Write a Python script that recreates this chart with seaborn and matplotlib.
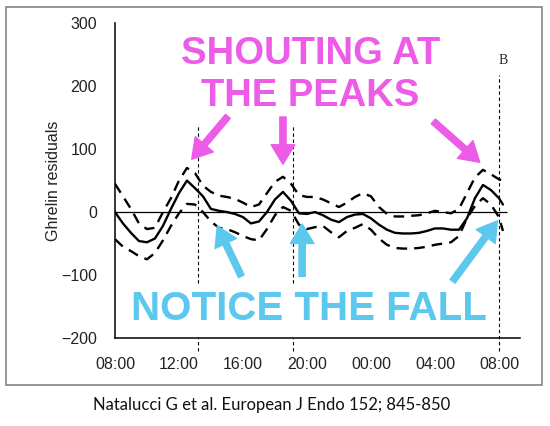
import matplotlib
matplotlib.use('Agg')
import matplotlib.pyplot as plt
import matplotlib.patches as mpatches
import numpy as np
import pandas as pd
import seaborn as sns

# data (hours since 00:00 of day 1, 32 = 08:00 next day)
hours = [8.0, 8.5, 9.0, 9.5, 10.0, 10.5, 11.0, 11.5, 12.0, 12.5,
         13.0, 13.5, 14.0, 14.5, 15.0, 15.5, 16.0, 16.5, 17.0, 17.5,
         18.0, 18.5, 19.0, 19.5, 20.0, 20.5, 21.0, 21.5, 22.0, 22.5,
         23.0, 23.5, 24.0, 24.5, 25.0, 25.5, 26.0, 26.5, 27.0, 27.5,
         28.0, 28.5, 29.0, 29.5, 30.0, 30.5, 31.0, 31.5, 32.0, 32.25]
mean = [0, -18, -33, -46, -48, -42, -22, 5, 30, 50,
        38, 25, 5, 2, 0, -3, -8, -18, -15, 0,
        20, 32, 18, -2, -3, 0, -5, -12, -16, -8,
        -4, -3, -10, -20, -28, -33, -34, -34, -33, -30,
        -26, -26, -28, -28, -10, 22, 43, 35, 22, 12]
upper = [45, 25, 5, -18, -27, -25, 0, 22, 50, 70,
         62, 42, 32, 26, 24, 21, 15, 8, 12, 30,
         48, 56, 45, 27, 24, 24, 20, 14, 8, 15,
         24, 30, 25, 8, -3, -7, -7, -6, -5, -2,
         2, 0, -2, 5, 30, 55, 67, 60, 52, 50]
lower = [-43, -55, -62, -70, -75, -65, -45, -22, -2, 13,
         12, 0, -15, -25, -27, -32, -38, -43, -45, -27,
         -5, 8, 2, -20, -27, -24, -22, -32, -40, -30,
         -25, -19, -28, -42, -52, -57, -58, -58, -57, -55,
         -52, -50, -48, -38, -10, 10, 22, 12, -8, -30]

tick_hours = [8, 12, 16, 20, 24, 28, 32]
tick_labels = ['08:00', '12:00', '16:00', '20:00', '00:00', '04:00', '08:00']
y_ticks = [-200, -100, 0, 100, 200, 300]

# event markers (dashed verticals)
events = [13.2, 19.1, 32.0]
event_top = [140, 140, 218]
event_bottom = [-112, -112, -220]

sns.set_style('white')
plt.rcParams['font.family'] = ['Liberation Sans', 'DejaVu Sans']

fig = plt.figure(figsize=(5.5, 4.26), dpi=100)
ax = fig.add_axes([0.209, 0.2066, 0.736, 0.739])

df = pd.DataFrame({'hour': hours, 'mean': mean, 'upper': upper, 'lower': lower})

dash = (0, (4.5, 3))
sns.lineplot(data=df, x='hour', y='upper', color='black', lw=1.7, linestyle=dash, ax=ax)
sns.lineplot(data=df, x='hour', y='lower', color='black', lw=1.7, linestyle=dash, ax=ax)
sns.lineplot(data=df, x='hour', y='mean', color='black', lw=1.7, ax=ax)

ax.hlines(0, 8, 32.5, color='black', lw=0.9)

ax.vlines(events, event_bottom, event_top, color='black', lw=0.8,
          linestyles=(0, (3, 2.5)), clip_on=False)
ax.vlines(events[:2], -220, -200, color='black', lw=0.8,
          linestyles=(0, (3, 2.5)), clip_on=False)
ax.text(32.25, 240, 'B', family='Liberation Serif', fontsize=10, ha='center', va='center')

ax.set_xlim(8, 33.3)
ax.set_ylim(-200, 300)
ax.set_xticks(tick_hours)
ax.set_xticklabels(tick_labels)
ax.set_yticks(y_ticks)
ax.tick_params(axis='both', which='major', length=0, labelsize=11.5, colors='#222222')
ax.tick_params(axis='x', which='major', pad=14)
ax.tick_params(axis='y', which='major', pad=13)
ax.xaxis.remove_overlapping_locs = False
ax.yaxis.remove_overlapping_locs = False
ax.set_xticks([8], minor=True)
ax.set_yticks([-200], minor=True)
ax.tick_params(which='minor', length=5, width=1.1, direction='out', color='black')
ax.set_xlabel('')
ax.set_ylabel('Ghrelin residuals', fontsize=11.5, labelpad=0, color='#222222')

sns.despine(ax=ax)
for s in ['left', 'bottom']:
    ax.spines[s].set_linewidth(1.1)
    ax.spines[s].set_color('black')

# annotations
magenta = '#EC5CE6'
cyan = '#5CC8EE'
ax.text(20.2, 218, 'SHOUTING AT\nTHE PEAKS', color=magenta, fontsize=27.5,
        fontweight='bold', ha='center', va='center', linespacing=1.2)
ax.text(20.1, -154, 'NOTICE THE FALL', color=cyan, fontsize=29,
        fontweight='bold', ha='center', va='center')

arrow_m = dict(width=4.5, headwidth=17, headlength=14, color=magenta, shrink=0)
arrow_c = dict(width=4.5, headwidth=17, headlength=14, color=cyan, shrink=0)
ax.annotate('', xy=(12.8, 84), xytext=(15.06, 152), arrowprops=arrow_m)
ax.annotate('', xy=(18.5, 76), xytext=(18.5, 151), arrowprops=arrow_m)
ax.annotate('', xy=(30.8, 79), xytext=(27.9, 144), arrowprops=arrow_m)
ax.annotate('', xy=(14.4, -22), xytext=(15.9, -102), arrowprops=arrow_c)
ax.annotate('', xy=(19.7, -19), xytext=(19.7, -102), arrowprops=arrow_c)
ax.annotate('', xy=(31.9, -14), xytext=(29.1, -110), arrowprops=arrow_c)

# frame around the figure panel and the citation
fig.patches.append(mpatches.Rectangle((0.011, 0.096), 0.975, 0.887, transform=fig.transFigure,
                                      fill=False, edgecolor='#80838c', lw=1.2))
fig.text(0.493, 0.049, 'Natalucci G et al. European J Endo 152; 845-850',
         family=['Lato', 'DejaVu Sans'], fontsize=12, ha='center', va='center', color='#111111')

fig.savefig('out.png', dpi=100)
